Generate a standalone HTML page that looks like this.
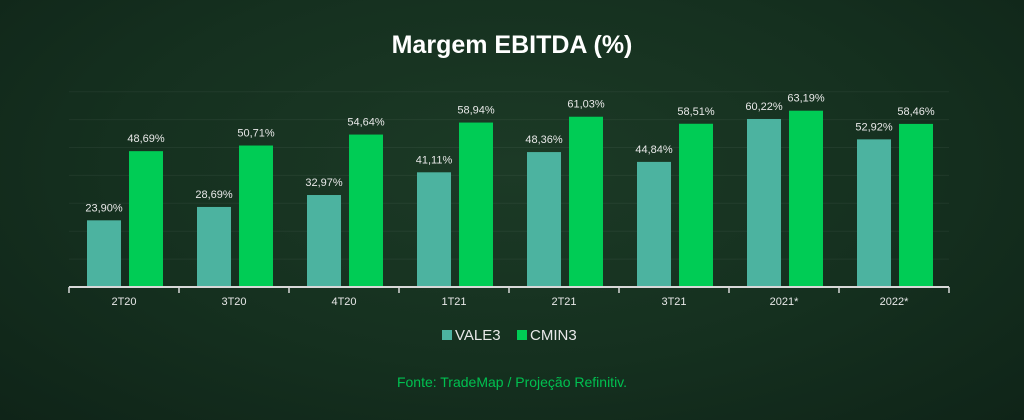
<!DOCTYPE html>
<html><head><meta charset="utf-8">
<style>
body{margin:0;width:1024px;height:420px;overflow:hidden;font-family:"Liberation Sans",sans-serif;}
#bg{position:absolute;left:0;top:0;width:1024px;height:420px;background:radial-gradient(ellipse at 50% 40%,#1c3a26 0%,#15301f 55%,#0f2418 100%);}
</style></head>
<body>
<div id="bg"></div>
<svg id="c" width="1024" height="420" style="position:absolute;left:0;top:0">
<text x="512" y="53" text-anchor="middle" fill="#fff" font-size="25" font-weight="bold">Margem EBITDA (%)</text>
<g id="grid"></g><g id="bars"></g>
<line x1="69" y1="287" x2="949" y2="287" stroke="#d8d8d8" stroke-width="2"/>
<g id="xl"></g>
<g>
<rect x="442" y="330" width="10" height="10" fill="#4cb3a0"/>
<text x="455" y="340" fill="#e8e8e8" font-size="15">VALE3</text>
<rect x="517" y="330" width="10" height="10" fill="#00cc55"/>
<text x="530" y="340" fill="#e8e8e8" font-size="15">CMIN3</text>
</g>
<text x="512" y="387" text-anchor="middle" fill="#00c050" font-size="14">Fonte: TradeMap / Projeção Refinitiv.</text>
</svg>
<script>
const categories=["2T20","3T20","4T20","1T21","2T21","3T21","2021*","2022*"];
const vale3=[23.90,28.69,32.97,41.11,48.36,44.84,60.22,52.92];
const cmin3=[48.69,50.71,54.64,58.94,61.03,58.51,63.19,58.46];
const NS="http://www.w3.org/2000/svg";
const x0=69,gw=110,base=287,k=2.79;
const y=v=>base-v*k;
const fmt=v=>v.toFixed(2).replace('.',',')+'%';
function mk(t,a,p){const e=document.createElementNS(NS,t);for(const q in a)e.setAttribute(q,a[q]);document.getElementById(p).appendChild(e);return e;}
for(let g=10;g<=70;g+=10){const l=mk('line',{x1:x0,x2:949,y1:y(g),y2:y(g),stroke:'rgba(255,255,255,0.05)'},'grid');

}
categories.forEach((c,i)=>{
 const gx=x0+i*gw;
 [[vale3[i],18,'#4cb3a0','vale3'],[cmin3[i],60,'#00cc55','cmin3']].forEach(([v,off,col,n])=>{
  const r=mk('rect',{x:gx+off,y:y(v),width:34,height:v*k,fill:col},'bars');
  
  
  const t=mk('text',{x:gx+off+17,y:y(v)-9,'text-anchor':'middle',fill:'#e8e8e8','font-size':11},'bars');
  t.textContent=fmt(v);
  
  
 });
 const tk=mk('line',{x1:gx,x2:gx,y1:287,y2:293,stroke:'#d8d8d8','stroke-width':1.5},'xl');
 
 
 const lt=mk('text',{x:gx+gw/2,y:305,'text-anchor':'middle',fill:'#e8e8e8','font-size':11},'xl');
 lt.textContent=c;
 
 
});
const te=mk('line',{x1:949,x2:949,y1:287,y2:293,stroke:'#d8d8d8','stroke-width':1.5},'xl');


</script>
</body></html>
